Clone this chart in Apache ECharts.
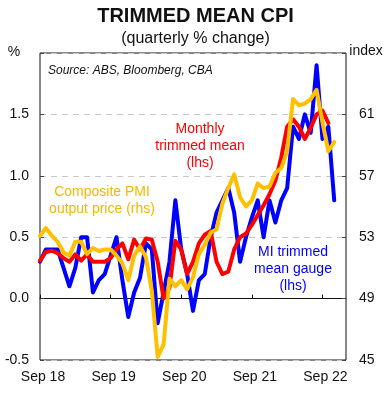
<!DOCTYPE html>
<html>
<head>
<meta charset="utf-8">
<script src="https://cdn.jsdelivr.net/npm/echarts@6/dist/echarts.min.js"></script>
<style>
html,body{margin:0;padding:0;background:#fff;}
#chart{width:391px;height:400px;}
</style>
</head>
<body>
<div id="chart"></div>
<script>
// Monthly categories, Sep 2018 .. Jan 2023
var categories = [
  'Sep 18','Oct 18','Nov 18','Dec 18',
  'Jan 19','Feb 19','Mar 19','Apr 19','May 19','Jun 19','Jul 19','Aug 19','Sep 19','Oct 19','Nov 19','Dec 19',
  'Jan 20','Feb 20','Mar 20','Apr 20','May 20','Jun 20','Jul 20','Aug 20','Sep 20','Oct 20','Nov 20','Dec 20',
  'Jan 21','Feb 21','Mar 21','Apr 21','May 21','Jun 21','Jul 21','Aug 21','Sep 21','Oct 21','Nov 21','Dec 21',
  'Jan 22','Feb 22','Mar 22','Apr 22','May 22','Jun 22','Jul 22','Aug 22','Sep 22','Oct 22','Nov 22','Dec 22',
  'Jan 23'
];
var xTickLabels = ['Sep 18','Sep 19','Sep 20','Sep 21','Sep 22'];

// MI trimmed mean gauge (lhs, %)
var miGauge = [
  0.30,0.40,0.40,0.40,0.25,0.10,0.25,0.50,0.50,0.05,0.15,0.20,
  0.35,0.50,0.15,-0.15,0.05,0.17,0.45,0.40,-0.20,0.05,0.30,0.80,
  0.40,0.20,-0.10,0.15,0.20,0.50,0.70,0.80,0.90,0.70,0.30,0.50,
  0.66,0.80,0.50,0.80,0.62,0.80,0.90,1.40,1.30,1.50,1.35,1.90,
  1.30,1.40,0.80
];
// Monthly trimmed mean (lhs, %)
var monthlyTM = [
  0.31,0.38,0.39,0.37,0.33,0.30,0.36,0.31,0.36,0.30,0.30,0.30,
  0.33,0.40,0.45,0.32,0.48,0.40,0.49,0.48,0.30,0.00,0.09,0.47,
  0.40,0.20,0.30,0.45,0.52,0.55,0.30,0.20,0.22,0.40,0.50,0.53,
  0.60,0.68,0.76,0.85,0.96,1.15,1.40,1.46,1.40,1.30,1.39,1.50,
  1.53,1.43
];
// Composite PMI output price (rhs, index)
var pmiOutput = [
  53.1,53.6,53.1,52.7,52.0,51.8,52.7,52.7,51.9,52.3,52.1,52.2,
  52.2,51.8,51.3,50.2,51.8,52.4,51.7,49.5,45.2,46.0,50.3,49.8,
  50.2,49.6,50.4,51.9,52.5,53.3,53.5,55.2,56.2,57.1,55.6,55.0,
  55.4,56.5,56.2,56.3,57.2,57.5,58.6,62.0,61.6,61.7,62.0,62.6,
  60.5,58.6,59.2
];

var FONT = '"Liberation Sans", Arial, sans-serif';
var BLUE = '#0000ff', RED = '#ff0000', GOLD = '#ffc000';

function isTick(idx, val) { return xTickLabels.indexOf(val) >= 0; }

var chart = echarts.init(document.getElementById('chart'), null, {renderer: 'canvas'});
chart.setOption({
  animation: false,
  backgroundColor: '#fff',
  textStyle: {fontFamily: FONT},
  grid: {left: 40, right: 45, top: 53, bottom: 40, show: true, borderColor: '#111', borderWidth: 1, backgroundColor: 'transparent'},
  xAxis: [{
    type: 'category', data: categories, boundaryGap: false, position: 'bottom',
    axisLine: {show: false, onZero: false},
    axisTick: {show: false},
    splitLine: {show: false},
    axisLabel: {interval: isTick, color: '#111', fontSize: 14, fontFamily: FONT, margin: 10, padding: [0,0,0,6]}
  }, {
    type: 'category', data: categories, boundaryGap: false, position: 'bottom',
    axisLine: {show: true, onZero: true, onZeroAxisIndex: 0, lineStyle: {color: '#111', width: 1}},
    axisTick: {show: true, inside: true, length: 4, interval: isTick, lineStyle: {color: '#111'}},
    axisLabel: {show: false},
    splitLine: {show: false}
  }],
  yAxis: [{
    type: 'value', min: -0.5, max: 2.0, interval: 0.5, position: 'left',
    axisLine: {show: false},
    axisTick: {show: true, inside: true, length: 4, lineStyle: {color: '#444'}},
    splitLine: {show: true, lineStyle: {color: '#c8c8c8', type: [6, 5], width: 1}},
    axisLabel: {color: '#111', fontSize: 14, fontFamily: FONT, margin: 11,
      formatter: function (v) { return v > 1.75 ? '' : v.toFixed(1); }}
  }, {
    type: 'value', min: 45, max: 65, interval: 4, position: 'right',
    axisLine: {show: false},
    axisTick: {show: true, inside: true, length: 4, lineStyle: {color: '#444'}},
    splitLine: {show: false},
    axisLabel: {color: '#111', fontSize: 14, fontFamily: FONT, margin: 13,
      formatter: function (v) { return v > 63 ? '' : String(v); }}
  }],
  series: [{
    name: 'MI trimmed mean gauge', type: 'line', data: miGauge, yAxisIndex: 0, xAxisIndex: 0,
    showSymbol: false, symbol: 'none', z: 2,
    lineStyle: {color: BLUE, width: 4, join: 'round', cap: 'round'}
  }, {
    name: 'Monthly trimmed mean', type: 'line', data: monthlyTM, yAxisIndex: 0, xAxisIndex: 0,
    showSymbol: false, symbol: 'none', z: 3,
    lineStyle: {color: RED, width: 4, join: 'round', cap: 'round'}
  }, {
    name: 'Composite PMI output price', type: 'line', data: pmiOutput, yAxisIndex: 1, xAxisIndex: 0,
    showSymbol: false, symbol: 'none', z: 4,
    lineStyle: {color: GOLD, width: 4, join: 'round', cap: 'round'}
  }],
  graphic: [
    {type: 'text', left: 'center', top: 6, style: {text: 'TRIMMED MEAN CPI', font: 'bold 20px ' + FONT, fill: '#111'}},
    {type: 'text', left: 'center', top: 31, style: {text: '(quarterly % change)', font: '16px ' + FONT, fill: '#111'}},
    {type: 'text', x: 14, y: 52, style: {text: '%', font: '14px ' + FONT, fill: '#111', align: 'center', verticalAlign: 'middle'}},
    {type: 'text', x: 366, y: 51, style: {text: 'index', font: '14px ' + FONT, fill: '#111', align: 'center', verticalAlign: 'middle'}},
    {type: 'text', x: 48, y: 71, style: {text: 'Source: ABS, Bloomberg, CBA', font: 'italic 12px ' + FONT, fill: '#111', align: 'left', verticalAlign: 'middle'}},
    {type: 'text', x: 200, y: 121, style: {text: 'Monthly\ntrimmed mean\n(lhs)', font: '14px ' + FONT, lineHeight: 17, fill: RED, align: 'center', verticalAlign: 'top'}, z: 100, silent: true},
    {type: 'text', x: 102, y: 184, style: {text: 'Composite PMI\noutput price (rhs)', font: '14px ' + FONT, lineHeight: 17, fill: '#f5b800', align: 'center', verticalAlign: 'top'}, z: 100},
    {type: 'text', x: 293, y: 244, style: {text: 'MI trimmed\nmean gauge\n(lhs)', font: '14px ' + FONT, lineHeight: 17, fill: BLUE, align: 'center', verticalAlign: 'top'}, z: 100}
  ]
});
</script>
</body>
</html>
